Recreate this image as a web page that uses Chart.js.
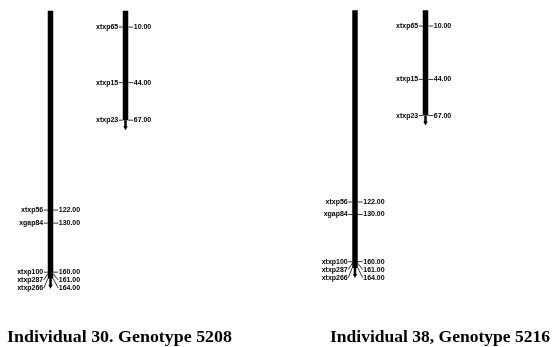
<!DOCTYPE html>
<html>
<head>
<meta charset="utf-8">
<script src="https://cdn.jsdelivr.net/npm/chart.js@4.4.1/dist/chart.umd.min.js"></script>
<style>
html, body { margin: 0; padding: 0; background: #fff; }
#wrap { width: 553px; height: 347px; }
</style>
</head>
<body>
<div id="wrap"><canvas id="map" width="553" height="347"></canvas></div>
<script>
// Long linkage group: markers and positions (cM)
var longMarkers = ['xtxp56', 'xgap84', 'xtxp100', 'xtxp287', 'xtxp266'];
var longPos = [122, 130, 160, 161, 164];
// Short linkage group
var shortMarkers = ['xtxp65', 'xtxp15', 'xtxp23'];
var shortPos = [10, 44, 67];
// Group ends (cM)
var longEnd = 164;
var shortEnd = 67;
// Panel captions
var titles = ['Individual 30. Genotype 5208', 'Individual 38, Genotype 5216'];

// Layout of the two panels (x in px, each panel on its own y axis)
var panels = [
    { axis: 'y', longX: 50.5, shortX: 125.5, titleX: 119.5, titleW: 225 },
    { axis: 'y2', longX: 355, shortX: 425.5, titleX: 440, titleW: 220 }
];
var barWidth = 5.5;

// Build datasets: one thick vertical line per linkage group
var datasets = [];
panels.forEach(function (p) {
    [[p.longX, longEnd], [p.shortX, shortEnd]].forEach(function (g) {
        datasets.push({
            data: [{ x: g[0], y: 0 }, { x: g[0], y: g[1] }],
            yAxisID: p.axis,
            borderColor: '#000',
            borderWidth: barWidth,
            borderCapStyle: 'butt',
            pointRadius: 0,
            fill: false
        });
    });
});

// Draw marker ticks, labels, arrows and captions
var mapPlugin = {
    id: 'mapLabels',
    afterDatasetsDraw: function (chart) {
        var ctx = chart.ctx;
        var xs = chart.scales.x;
        ctx.save();
        ctx.fillStyle = '#000';
        ctx.strokeStyle = '#000';
        panels.forEach(function (p) {
            var ys = chart.scales[p.axis];
            drawGroup(ctx, xs.getPixelForValue(p.longX), ys, longMarkers, longPos, longEnd);
            drawGroup(ctx, xs.getPixelForValue(p.shortX), ys, shortMarkers, shortPos, shortEnd);
        });
        // captions (scanned type is a bit wider than Times)
        ctx.font = 'bold 16px "Liberation Serif", "DejaVu Serif", serif';
        ctx.textAlign = 'center';
        ctx.textBaseline = 'alphabetic';
        panels.forEach(function (p, i) {
            var w = ctx.measureText(titles[i]).width;
            ctx.save();
            ctx.translate(p.titleX, 342);
            ctx.scale(p.titleW / w, 1);
            ctx.fillText(titles[i], 0, 0);
            ctx.restore();
        });
        ctx.restore();
    }
};

function drawGroup(ctx, cx, ys, names, pos, end) {
    var left = cx - barWidth / 2;
    var right = cx + barWidth / 2;
    // arrow at the bottom end
    var yEnd = ys.getPixelForValue(end);
    ctx.lineWidth = 2.5;
    ctx.beginPath();
    ctx.moveTo(cx, yEnd);
    ctx.lineTo(cx, yEnd + 7);
    ctx.stroke();
    ctx.beginPath();
    ctx.moveTo(cx - 2.2, yEnd + 6);
    ctx.lineTo(cx + 2.2, yEnd + 6);
    ctx.lineTo(cx, yEnd + 10);
    ctx.closePath();
    ctx.fill();
    // spread labels so they do not overlap
    var labelY = [];
    pos.forEach(function (v, i) {
        var py = ys.getPixelForValue(v);
        labelY.push(i > 0 ? Math.max(py, labelY[i - 1] + 8) : py);
    });
    ctx.font = 'bold 7px "Liberation Sans", Arial, sans-serif';
    ctx.textBaseline = 'middle';
    ctx.lineWidth = 0.8;
    pos.forEach(function (v, i) {
        var py = ys.getPixelForValue(v);
        var ly = labelY[i];
        ctx.beginPath();
        ctx.moveTo(left, py);
        ctx.lineTo(left - 4, ly);
        ctx.moveTo(right, py);
        ctx.lineTo(right + 5, ly);
        ctx.stroke();
        ctx.textAlign = 'right';
        ctx.fillText(names[i], left - 4.5, ly);
        ctx.textAlign = 'left';
        ctx.fillText(v.toFixed(2), right + 5.5, ly);
    });
}

new Chart(document.getElementById('map'), {
    type: 'line',
    data: { datasets: datasets },
    options: {
        responsive: false,
        animation: false,
        events: [],
        layout: { padding: 0 },
        plugins: { legend: { display: false }, tooltip: { enabled: false } },
        scales: {
            x: { type: 'linear', min: 0, max: 553, display: false },
            y: { type: 'linear', min: -6.55, max: 205.8, reverse: true, display: false },
            y2: { type: 'linear', min: -6.56, max: 214.3, reverse: true, display: false }
        }
    },
    plugins: [mapPlugin]
});
</script>
</body>
</html>
